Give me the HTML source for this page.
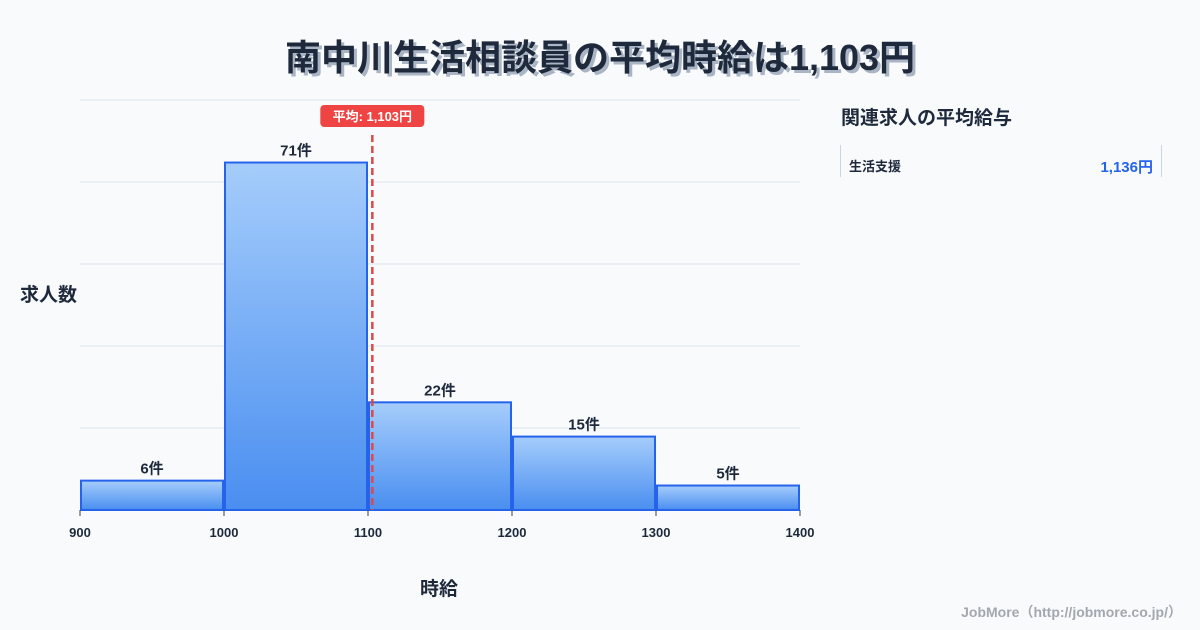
<!DOCTYPE html>
<html><head><meta charset="utf-8">
<style>
body{margin:0;width:1200px;height:630px;background:#f8fafc;font-family:"Liberation Sans","Noto Sans CJK JP",sans-serif;overflow:hidden;position:relative}
.t{position:absolute;white-space:nowrap}
</style></head><body>
<div class="t" style="left:0;width:1200px;top:29px;text-align:center;font-size:36px;font-weight:bold;color:#1e293b;text-shadow:3px 3px 0 #a9b4c4">南中川生活相談員の平均時給は1,103円</div>
<div class="t" style="left:20px;top:280px;font-size:19px;font-weight:bold;color:#1e293b">求人数</div>
<div class="t" style="left:420px;top:574px;font-size:19px;font-weight:bold;color:#1e293b">時給</div>
<div class="t" style="left:841px;top:103px;font-size:19px;font-weight:bold;color:#1e293b">関連求人の平均給与</div>
<div style="position:absolute;left:840px;top:145px;width:320px;height:32px;border-left:1px solid #cbd5e1;border-right:1px solid #cbd5e1">
<span class="t" style="left:8px;top:11px;font-size:13px;font-weight:bold;color:#1e293b">生活支援</span>
<span class="t" style="right:8px;top:11px;font-size:15px;font-weight:bold;color:#2563eb">1,136円</span>
</div>
<div class="t" style="right:18px;top:602px;font-size:14px;font-weight:bold;color:#a3a8b0">JobMore（http://jobmore.co.jp/）</div>
<svg id="c" width="1200" height="630" style="position:absolute;left:0;top:0">
<defs><linearGradient id="g" x1="0" y1="0" x2="0" y2="1"><stop offset="0" stop-color="#a5cdfb"/><stop offset="1" stop-color="#4a8ef0"/></linearGradient></defs>
</svg>
<script>
const binEdges=[900,1000,1100,1200,1300,1400];
const counts=[6,71,22,15,5];
const avgWage=1103;
const avgLabel="平均: 1,103円";
const yMax=71*1.18;
const svg=document.getElementById('c');const NS='http://www.w3.org/2000/svg';
const X0=80,X1=800,Y0=510,Y1=100;
const x=v=>X0+(v-900)/(1400-900)*(X1-X0);
const y=v=>Y0-v/yMax*(Y0-Y1);
function mk(t,a,txt){const e=document.createElementNS(NS,t);for(const k in a)e.setAttribute(k,a[k]);if(txt!=null)e.textContent=txt;svg.appendChild(e);return e;}
for(let i=0;i<=5;i++){const gy=Y1+i*(Y0-Y1)/5;const l=mk('line',{x1:X0,x2:X1,y1:gy,y2:gy,stroke:i==5?'#334155':'#dde6f0','stroke-width':1});

}
counts.forEach((c,i)=>{const bx=x(binEdges[i])+1,bw=x(binEdges[i+1])-x(binEdges[i])-2;
const r=mk('rect',{x:bx,y:y(c),width:bw,height:Y0-y(c),fill:'url(#g)',stroke:'#2563eb','stroke-width':2});


const t=mk('text',{x:bx+bw/2,y:y(c)-7,'text-anchor':'middle','font-size':15,'font-weight':'bold',fill:'#1e293b'},c+'件');

});
binEdges.forEach(v=>{const tk=mk('line',{x1:x(v),x2:x(v),y1:Y0,y2:Y0+6,stroke:'#334155'});


const t=mk('text',{x:x(v),y:537,'text-anchor':'middle','font-size':13,'font-weight':'bold',fill:'#1e293b'},v);

});
const ax=x(avgWage);
const al=mk('line',{x1:ax,x2:ax,y1:135,y2:Y0,stroke:'#e04848','stroke-width':2.5,'stroke-dasharray':'7,4'});


const ar=mk('rect',{x:ax-52,y:105,width:104,height:22,rx:4,fill:'#ef4444'});


const at=mk('text',{x:ax,y:121,'text-anchor':'middle','font-size':13,'font-weight':'bold',fill:'#fff'},avgLabel);


</script>
</body></html>
